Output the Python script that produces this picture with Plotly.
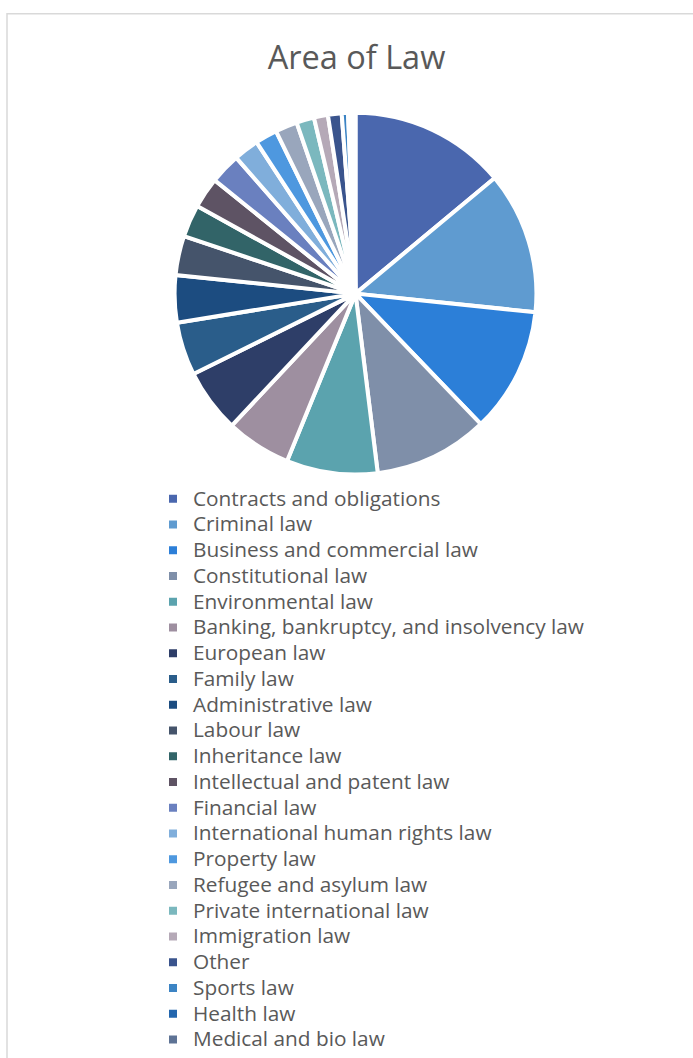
import plotly.graph_objects as go

W, H = 693, 1058

categories = [
    "Contracts and obligations", "Criminal law", "Business and commercial law",
    "Constitutional law", "Environmental law", "Banking, bankruptcy, and insolvency law",
    "European law", "Family law", "Administrative law", "Labour law",
    "Inheritance law", "Intellectual and patent law", "Financial law",
    "International human rights law", "Property law", "Refugee and asylum law",
    "Private international law", "Immigration law", "Other", "Sports law",
    "Health law", "Medical and bio law",
]
values = [
    13.97, 12.67, 11.17, 10.22, 8.14, 5.81,
    5.69, 4.75, 4.22, 3.50,
    2.89, 2.75, 2.75,
    2.25, 1.97, 1.97,
    1.58, 1.25, 1.22, 0.56,
    0.33, 0.33,
]
colors = [
    "#4A67AE", "#5F9BD0", "#2C7FD8", "#7F8FA9", "#5BA3AE", "#9E8FA0",
    "#2E3E68", "#2A5D8A", "#1C4C80", "#45546B",
    "#326468", "#5E5364", "#6A80BF",
    "#80AEDB", "#4E98DF", "#99A6BC",
    "#7BB8BE", "#B5A9B7", "#3A548D", "#3C84C4",
    "#2366AE", "#5E7395",
]

cx, cy, r = 355.5, 297, 183

legend_labels = ["<span style='font-size:20.8px'>%s</span>" % c for c in categories]

fig = go.Figure(go.Pie(
    labels=legend_labels,
    values=values,
    sort=False,
    direction="clockwise",
    rotation=0,
    textinfo="none",
    hoverinfo="skip",
    marker=dict(colors=colors, line=dict(color="white", width=4)),
    domain=dict(x=[(cx - r) / W, (cx + r) / W],
                y=[1 - (cy + r) / H, 1 - (cy - r) / H]),
))

fig.update_layout(
    width=W, height=H,
    margin=dict(l=0, r=0, t=0, b=0),
    paper_bgcolor="white",
    plot_bgcolor="white",
    font=dict(family="Open Sans", color="#595959"),
    title=dict(text="Area of Law", x=356.5 / W, xanchor="center",
               y=1 - 58 / H, yanchor="middle",
               font=dict(family="Open Sans", size=32.5, color="#595959")),
    showlegend=True,
    legend=dict(x=153 / W, xanchor="left", y=1 - 486.5 / H, yanchor="top",
                font=dict(family="Open Sans", size=17.5, color="#595959"),
                bgcolor="rgba(0,0,0,0)", traceorder="normal"),
    shapes=[dict(type="rect", xref="paper", yref="paper",
                 x0=7 / W, x1=1.2, y0=-0.2, y1=1 - 14 / H,
                 line=dict(color="#D9D9D9", width=1.5), fillcolor="rgba(0,0,0,0)")],
)

fig.write_html("out.html",
               config={"displayModeBar": False},
               post_script="document.body.style.margin='0px';document.body.style.overflow='hidden';")
